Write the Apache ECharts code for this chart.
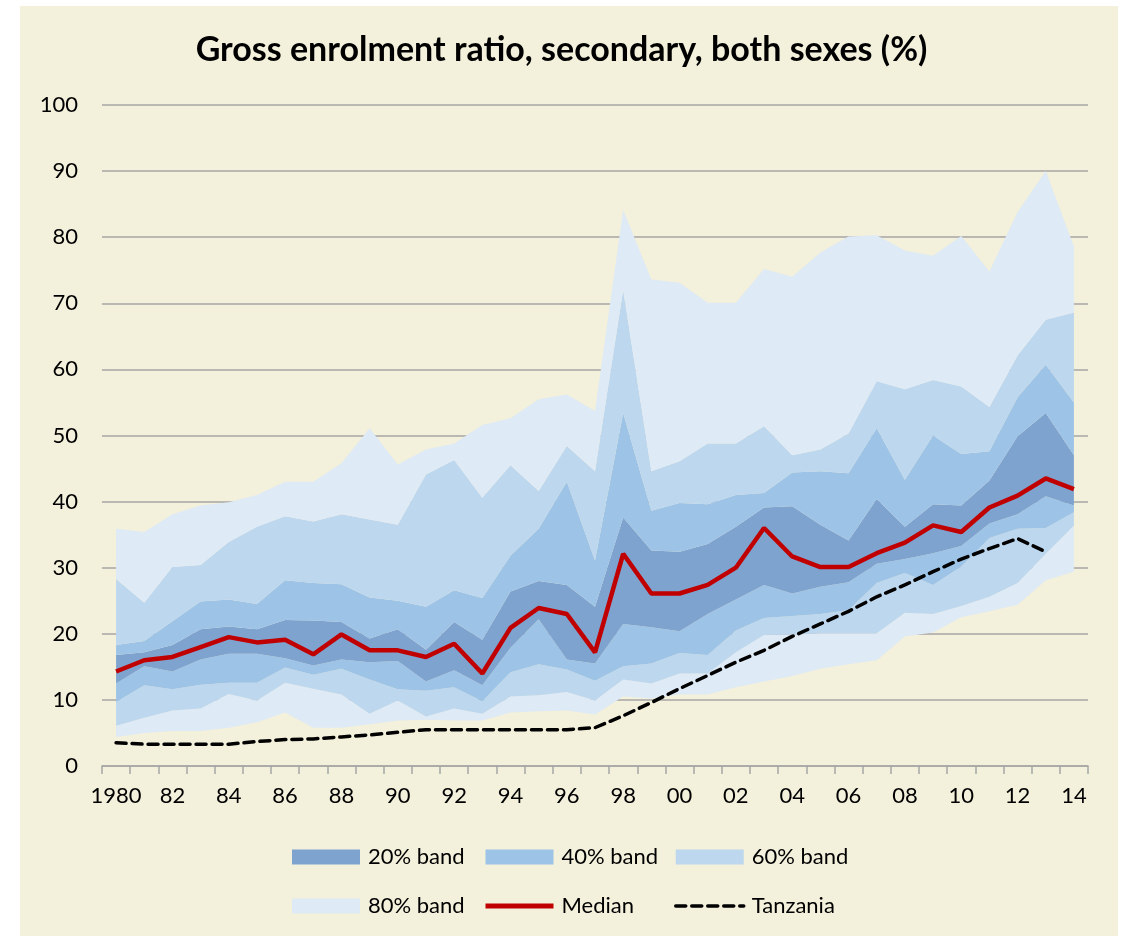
<!DOCTYPE html>
<html>
<head>
<meta charset="utf-8">
<script src="https://cdn.jsdelivr.net/npm/echarts@6/dist/echarts.min.js"></script>
<style>
  html, body { margin: 0; padding: 0; background: #fff; }
  #chart { width: 1123px; height: 936px; }
</style>
</head>
<body>
<div id="chart"></div>
<script>
// categories (tick labels shown every other year)
const years = ['1980','81','82','83','84','85','86','87','88','89',
               '90','91','92','93','94','95','96','97','98','99',
               '00','01','02','03','04','05','06','07','08','09',
               '10','11','12','13','14'];

// band edges
const hi80 = [35.9,35.4,38.1,39.4,39.9,41.0,43.0,43.0,45.8,51.1,45.6,47.9,48.8,51.6,52.6,55.5,56.2,53.7,84.1,73.6,
              73.1,70.1,70.1,75.2,74.0,77.7,80.1,80.3,78.0,77.2,80.2,74.8,83.8,90.0,78.6];
const hi60 = [28.3,24.7,30.1,30.4,33.9,36.2,37.8,37.0,38.1,37.3,36.5,44.1,46.3,40.6,45.5,41.6,48.4,44.6,72.0,44.6,
              46.1,48.8,48.8,51.4,47.0,47.9,50.3,58.2,57.0,58.4,57.4,54.3,62.1,67.5,68.6];
const hi40 = [18.3,18.9,21.9,24.9,25.2,24.5,28.1,27.7,27.5,25.5,25.0,24.1,26.6,25.4,31.8,35.9,43.0,31.1,53.4,38.6,
              39.8,39.6,41.0,41.3,44.4,44.6,44.3,51.1,43.3,50.0,47.2,47.6,55.8,60.7,55.0];
const hi20 = [16.8,17.2,18.3,20.7,21.1,20.7,22.1,22.0,21.8,19.3,20.7,17.6,21.8,19.1,26.4,28.0,27.4,24.1,37.6,32.6,
              32.4,33.6,36.2,39.1,39.3,36.5,34.1,40.4,36.2,39.6,39.4,43.2,49.9,53.4,47.0];
const lo20 = [12.5,15.1,14.3,16.1,17.0,17.0,16.3,15.2,16.1,15.7,15.9,12.8,14.5,12.2,17.9,22.2,16.1,15.5,21.5,21.0,
              20.4,23.0,25.2,27.4,26.1,27.1,27.8,30.6,31.3,32.2,33.3,36.7,38.1,40.8,39.4];
const lo40 = [9.7,12.2,11.6,12.3,12.6,12.6,14.9,13.8,14.7,13.1,11.6,11.4,11.9,9.8,14.2,15.4,14.6,12.9,15.1,15.5,
              17.1,16.8,20.5,22.4,22.7,23.0,23.6,27.7,29.2,27.4,30.2,34.5,35.9,36.0,38.4];
const lo60 = [6.1,7.3,8.4,8.7,10.9,9.9,12.6,11.7,10.8,7.9,9.9,7.5,8.7,7.9,10.5,10.7,11.2,9.9,13.1,12.5,
              14.0,14.0,17.2,19.8,19.9,20.1,20.1,20.1,23.2,23.0,24.2,25.6,27.7,32.1,36.4];
const lo80 = [4.4,5.0,5.3,5.3,5.8,6.6,8.1,5.8,5.8,6.3,6.9,7.0,6.9,6.9,8.1,8.3,8.4,7.8,10.5,10.2,
              10.8,10.8,11.9,12.8,13.6,14.7,15.4,16.0,19.6,20.2,22.5,23.4,24.4,28.1,29.4];

const median = [14.3,16.0,16.5,18.0,19.5,18.7,19.1,16.9,19.9,17.5,17.5,16.5,18.5,14.0,20.9,23.9,23.0,17.2,32.1,26.1,
                26.1,27.4,30.0,36.0,31.7,30.1,30.1,32.2,33.8,36.4,35.4,39.1,40.9,43.5,41.9];
const tanzania = [3.5,3.3,3.3,3.3,3.3,3.7,4.0,4.1,4.4,4.7,5.1,5.5,5.5,5.5,5.5,5.5,5.5,5.8,7.6,9.6,
                  11.7,13.7,15.7,17.5,19.6,21.5,23.4,25.6,27.4,29.4,31.3,32.9,34.4,32.4,null];

const yTicks = { min: 0, max: 100, interval: 10 };

const c20 = '#7FA3CF', c40 = '#9DC3E6', c60 = '#BDD7EE', c80 = '#DEEAF6';
const bg = '#F3F0DB';
const font = 'Lato, "Open Sans", sans-serif';

const diff = (a, b) => a.map((v, i) => +(v - b[i]).toFixed(2));

function band(name, data, color) {
  return {
    name: name,
    type: 'line',
    stack: 'fan',
    stackStrategy: 'all',
    data: data,
    symbol: 'none',
    color: color,
    lineStyle: { width: 0, opacity: 0 },
    areaStyle: { color: color, opacity: 1 },
    z: 2
  };
}

const legendBase = {
  orient: 'vertical',
  top: 846,
  itemWidth: 68,
  itemHeight: 15,
  itemGap: 27,
  padding: 0,
  selectedMode: false,
  textStyle: { fontSize: 22, fontFamily: font, color: '#000', lineHeight: 22, padding: [0, 0, 0, 3] }
};

const lineKey = (name, style) => ({ name: name, itemStyle: { opacity: 0 }, lineStyle: style });

const myChart = echarts.init(document.getElementById('chart'));
myChart.setOption({
  animation: false,
  backgroundColor: '#fff',
  graphic: [{
    type: 'rect',
    z: -10,
    silent: true,
    shape: { x: 20, y: 6, width: 1098, height: 930 },
    style: { fill: bg }
  }],
  title: {
    text: 'Gross enrolment ratio, secondary, both sexes (%)',
    left: 'center',
    top: 28,
    textStyle: { fontSize: 34, fontWeight: 'bold', fontFamily: font, color: '#000' }
  },
  legend: [
    Object.assign({}, legendBase, { left: 292, data: [{ name: '20% band', icon: 'rect' }, { name: '80% band', icon: 'rect' }] }),
    Object.assign({}, legendBase, { left: 483, data: [{ name: '40% band', icon: 'rect' },
      lineKey('Median', { color: '#C00000', width: 5 })] }),
    Object.assign({}, legendBase, { left: 674, data: [{ name: '60% band', icon: 'rect' },
      lineKey('Tanzania', { color: '#000', width: 3.5, type: [10, 6] })] })
  ],
  grid: { left: 102, right: 35, top: 105, bottom: 170 },
  xAxis: {
    type: 'category',
    data: years,
    boundaryGap: true,
    axisLine: { lineStyle: { color: '#A6A6A6', width: 1.5 } },
    axisTick: { show: true, interval: 0, length: 8, lineStyle: { color: '#A6A6A6', width: 1.5 } },
    axisLabel: { interval: 1, fontSize: 22, fontFamily: font, color: '#000', margin: 19 }
  },
  yAxis: {
    type: 'value',
    min: yTicks.min,
    max: yTicks.max,
    interval: yTicks.interval,
    axisLine: { show: false },
    axisTick: { show: false },
    axisLabel: { fontSize: 22, fontFamily: font, color: '#000', margin: 24 },
    splitLine: { lineStyle: { color: '#A6A6A6', width: 1.5 } }
  },
  series: [
    {
      name: 'base',
      type: 'line',
      stack: 'fan',
      stackStrategy: 'all',
      data: lo80,
      symbol: 'none',
      lineStyle: { width: 0, opacity: 0 },
      z: 2
    },
    band('80% band', diff(lo60, lo80), c80),
    band('60% band', diff(lo40, lo60), c60),
    band('40% band', diff(lo20, lo40), c40),
    band('20% band', diff(hi20, lo20), c20),
    band('40% band', diff(hi40, hi20), c40),
    band('60% band', diff(hi60, hi40), c60),
    band('80% band', diff(hi80, hi60), c80),
    {
      name: 'Median',
      type: 'line',
      data: median,
      symbol: 'none',
      color: '#C00000',
      lineStyle: { color: '#C00000', width: 4.5 },
      z: 5
    },
    {
      name: 'Tanzania',
      type: 'line',
      data: tanzania,
      symbol: 'none',
      color: '#000',
      lineStyle: { color: '#000', width: 3.5, type: [10, 6], cap: 'round' },
      z: 6
    }
  ]
});
</script>
</body>
</html>
